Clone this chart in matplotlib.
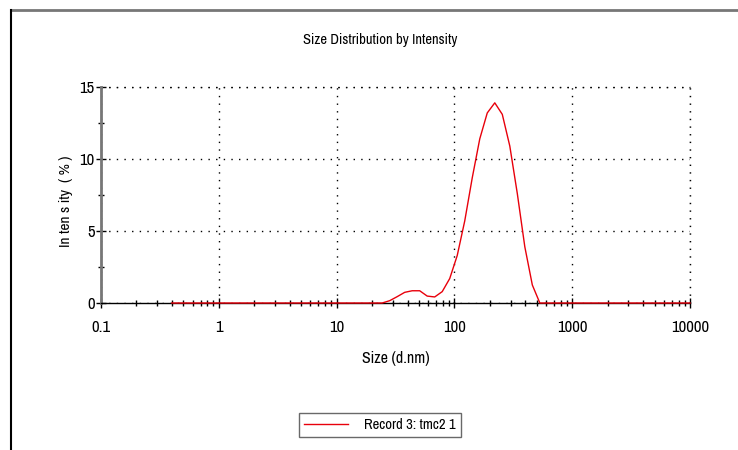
import matplotlib
matplotlib.use('Agg')
import matplotlib.pyplot as plt
from matplotlib.lines import Line2D

plt.rcParams['font.family'] = ['Archivo Narrow', 'Roboto Condensed', 'DejaVu Sans']

# Malvern size bins (d.nm) and intensity (%)
sizes = [0.4, 24.36, 28.21, 32.67, 37.84, 43.82, 50.75, 58.77, 68.06, 78.82,
         91.28, 105.7, 122.4, 141.8, 164.2, 190.1, 220.2, 255.0, 295.3,
         342.0, 396.1, 458.7, 531.2, 615.1, 10000]
intensity = [0, 0, 0.16, 0.44, 0.74, 0.85, 0.85, 0.48, 0.42, 0.79,
             1.7, 3.3, 5.7, 8.7, 11.4, 13.2, 13.9, 13.1, 10.9,
             7.6, 3.9, 1.25, 0, 0, 0]

xticks = [0.1, 1, 10, 100, 1000, 10000]
xticklabels = ['0.1', '1', '10', '100', '1000', '10000']
yticks = [0, 5, 10, 15]

fig = plt.figure(figsize=(7.38, 4.5), dpi=100)
ax = fig.add_axes([101/738, 1-303/450, 589/738, 216/450])

ax.plot(sizes, intensity, color='#e8000b', lw=1.0, zorder=3, clip_on=False)
ax.set_xscale('log')
ax.set_xlim(0.1, 10000)
ax.set_ylim(0, 15)
ax.set_xticks(xticks)
ax.set_xticklabels(xticklabels)
ax.set_yticks(yticks)
ax.set_yticks([2.5, 7.5, 12.5], minor=True)

dots = (0, (1, 4.5))
ax.grid(True, which='major', color='black', linestyle=dots, lw=1.0)
ax.spines['top'].set_visible(False)
ax.spines['right'].set_visible(False)
ax.spines['left'].set_color('#777777')
ax.spines['left'].set_linewidth(2)
ax.spines['bottom'].set_color('black')
ax.spines['bottom'].set_linewidth(1)
# dotted border on top and right
ax.axhline(15, color='black', linestyle=dots, lw=1.0, clip_on=False)
ax.axvline(10000, color='black', linestyle=dots, lw=1.0, clip_on=False)

ax.tick_params(which='major', direction='inout', length=7, width=1, colors='black',
               labelsize=12)
ax.tick_params(which='minor', direction='inout', length=4, width=1, colors='black')
ax.tick_params(axis='x', which='major', pad=9)
ax.tick_params(axis='y', which='major', pad=1)

fig.text(380/738, 1-40/450, 'Size Distribution by Intensity', ha='center', va='center',
         fontsize=10.5)
ax.set_xlabel('Size (d.nm)', fontsize=11.5, labelpad=11)
ax.set_ylabel('In ten s ity  ( % )', fontsize=11)
ax.yaxis.set_label_coords(-0.047, 0.47)

# legend box
leg_handle = Line2D([], [], color='#e8000b', lw=1.0)
leg = fig.legend([leg_handle], ['Record 3: tmc2 1'], loc='center',
                 bbox_to_anchor=(380/738, 1-425/450), frameon=True, fancybox=False,
                 fontsize=10.5, handlelength=3.0, handletextpad=1.1,
                 borderpad=0.35, borderaxespad=0, edgecolor='#444444')
leg.get_frame().set_linewidth(1)

# outer frame lines
fig.add_artist(Line2D([11/738, 1], [1-10/450, 1-10/450], color='#777777', lw=2,
                      transform=fig.transFigure))
fig.add_artist(Line2D([11/738, 11/738], [0, 1-10/450], color='black', lw=1.5,
                      transform=fig.transFigure))

fig.savefig('out.png', dpi=100)
